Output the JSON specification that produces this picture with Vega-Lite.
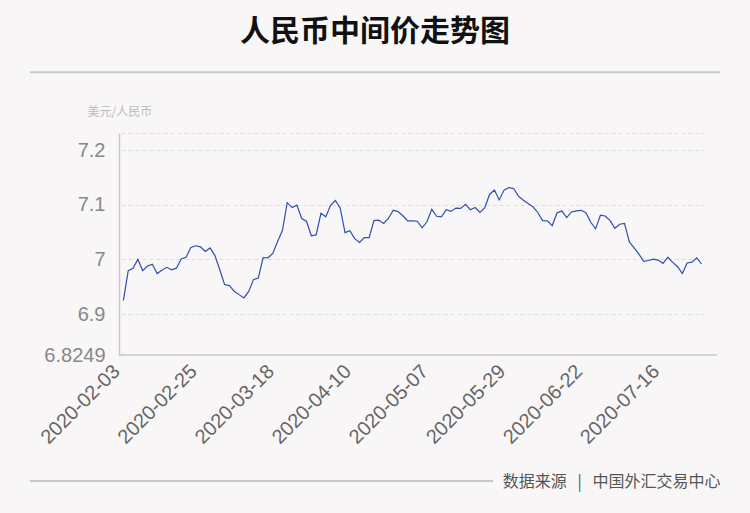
{
  "$schema": "https://vega.github.io/schema/vega-lite/v6.json",
  "width": 598,
  "height": 222,
  "autosize": "none",
  "padding": {"left": 119, "top": 133, "right": 33, "bottom": 158},
  "background": "#f9f6f8",
  "title": {"text": "人民币中间价走势图", "font": "Noto Sans CJK SC", "fontSize": 30, "fontWeight": "bold", "color": "#111111", "anchor": "middle", "frame": "group", "dx": -43, "offset": 24},
  "config": {"view": {"stroke": null}, "font": "Liberation Sans"},
  "resolve": {"scale": {"x": "independent"}, "axis": {"x": "independent"}},
  "layer": [
    {
      "data": {"values": [
        {"date": "2020-02-03", "rate": 6.9249},
        {"date": "2020-02-04", "rate": 6.9795},
        {"date": "2020-02-05", "rate": 6.9837},
        {"date": "2020-02-06", "rate": 7.0000},
        {"date": "2020-02-07", "rate": 6.9795},
        {"date": "2020-02-10", "rate": 6.9880},
        {"date": "2020-02-11", "rate": 6.9910},
        {"date": "2020-02-12", "rate": 6.9740},
        {"date": "2020-02-13", "rate": 6.9800},
        {"date": "2020-02-14", "rate": 6.9855},
        {"date": "2020-02-17", "rate": 6.9810},
        {"date": "2020-02-18", "rate": 6.9840},
        {"date": "2020-02-19", "rate": 7.0010},
        {"date": "2020-02-20", "rate": 7.0040},
        {"date": "2020-02-21", "rate": 7.0220},
        {"date": "2020-02-24", "rate": 7.0250},
        {"date": "2020-02-25", "rate": 7.0230},
        {"date": "2020-02-26", "rate": 7.0145},
        {"date": "2020-02-27", "rate": 7.0210},
        {"date": "2020-02-28", "rate": 7.0070},
        {"date": "2020-03-02", "rate": 6.9810},
        {"date": "2020-03-03", "rate": 6.9540},
        {"date": "2020-03-04", "rate": 6.9520},
        {"date": "2020-03-05", "rate": 6.9415},
        {"date": "2020-03-06", "rate": 6.9355},
        {"date": "2020-03-09", "rate": 6.9295},
        {"date": "2020-03-10", "rate": 6.9415},
        {"date": "2020-03-11", "rate": 6.9630},
        {"date": "2020-03-12", "rate": 6.9660},
        {"date": "2020-03-13", "rate": 7.0035},
        {"date": "2020-03-16", "rate": 7.0030},
        {"date": "2020-03-17", "rate": 7.0110},
        {"date": "2020-03-18", "rate": 7.0330},
        {"date": "2020-03-19", "rate": 7.0530},
        {"date": "2020-03-20", "rate": 7.1040},
        {"date": "2020-03-23", "rate": 7.0950},
        {"date": "2020-03-24", "rate": 7.0995},
        {"date": "2020-03-25", "rate": 7.0750},
        {"date": "2020-03-26", "rate": 7.0700},
        {"date": "2020-03-27", "rate": 7.0434},
        {"date": "2020-03-30", "rate": 7.0450},
        {"date": "2020-03-31", "rate": 7.0845},
        {"date": "2020-04-01", "rate": 7.0780},
        {"date": "2020-04-02", "rate": 7.0990},
        {"date": "2020-04-03", "rate": 7.1080},
        {"date": "2020-04-07", "rate": 7.0940},
        {"date": "2020-04-08", "rate": 7.0490},
        {"date": "2020-04-09", "rate": 7.0525},
        {"date": "2020-04-10", "rate": 7.0380},
        {"date": "2020-04-13", "rate": 7.0310},
        {"date": "2020-04-14", "rate": 7.0400},
        {"date": "2020-04-15", "rate": 7.0400},
        {"date": "2020-04-16", "rate": 7.0710},
        {"date": "2020-04-17", "rate": 7.0720},
        {"date": "2020-04-20", "rate": 7.0660},
        {"date": "2020-04-21", "rate": 7.0750},
        {"date": "2020-04-22", "rate": 7.0900},
        {"date": "2020-04-23", "rate": 7.0875},
        {"date": "2020-04-24", "rate": 7.0800},
        {"date": "2020-04-27", "rate": 7.0705},
        {"date": "2020-04-28", "rate": 7.0705},
        {"date": "2020-04-29", "rate": 7.0700},
        {"date": "2020-04-30", "rate": 7.0580},
        {"date": "2020-05-06", "rate": 7.0690},
        {"date": "2020-05-07", "rate": 7.0917},
        {"date": "2020-05-08", "rate": 7.0790},
        {"date": "2020-05-11", "rate": 7.0780},
        {"date": "2020-05-12", "rate": 7.0910},
        {"date": "2020-05-13", "rate": 7.0880},
        {"date": "2020-05-14", "rate": 7.0940},
        {"date": "2020-05-15", "rate": 7.0935},
        {"date": "2020-05-18", "rate": 7.1010},
        {"date": "2020-05-19", "rate": 7.0910},
        {"date": "2020-05-20", "rate": 7.0950},
        {"date": "2020-05-21", "rate": 7.0860},
        {"date": "2020-05-22", "rate": 7.0950},
        {"date": "2020-05-25", "rate": 7.1190},
        {"date": "2020-05-26", "rate": 7.1270},
        {"date": "2020-05-27", "rate": 7.1090},
        {"date": "2020-05-28", "rate": 7.1270},
        {"date": "2020-05-29", "rate": 7.1316},
        {"date": "2020-06-01", "rate": 7.1300},
        {"date": "2020-06-02", "rate": 7.1160},
        {"date": "2020-06-03", "rate": 7.1085},
        {"date": "2020-06-04", "rate": 7.1025},
        {"date": "2020-06-05", "rate": 7.0965},
        {"date": "2020-06-08", "rate": 7.0860},
        {"date": "2020-06-09", "rate": 7.0710},
        {"date": "2020-06-10", "rate": 7.0705},
        {"date": "2020-06-11", "rate": 7.0620},
        {"date": "2020-06-12", "rate": 7.0856},
        {"date": "2020-06-15", "rate": 7.0886},
        {"date": "2020-06-16", "rate": 7.0766},
        {"date": "2020-06-17", "rate": 7.0870},
        {"date": "2020-06-18", "rate": 7.0890},
        {"date": "2020-06-19", "rate": 7.0900},
        {"date": "2020-06-22", "rate": 7.0856},
        {"date": "2020-06-23", "rate": 7.0680},
        {"date": "2020-06-24", "rate": 7.0560},
        {"date": "2020-06-29", "rate": 7.0810},
        {"date": "2020-06-30", "rate": 7.0796},
        {"date": "2020-07-01", "rate": 7.0710},
        {"date": "2020-07-02", "rate": 7.0570},
        {"date": "2020-07-03", "rate": 7.0645},
        {"date": "2020-07-06", "rate": 7.0660},
        {"date": "2020-07-07", "rate": 7.0320},
        {"date": "2020-07-08", "rate": 7.0210},
        {"date": "2020-07-09", "rate": 7.0096},
        {"date": "2020-07-10", "rate": 6.9964},
        {"date": "2020-07-13", "rate": 6.9980},
        {"date": "2020-07-14", "rate": 7.0006},
        {"date": "2020-07-15", "rate": 6.9988},
        {"date": "2020-07-16", "rate": 6.9928},
        {"date": "2020-07-17", "rate": 7.0040},
        {"date": "2020-07-20", "rate": 6.9946},
        {"date": "2020-07-21", "rate": 6.9870},
        {"date": "2020-07-22", "rate": 6.9740},
        {"date": "2020-07-23", "rate": 6.9934},
        {"date": "2020-07-24", "rate": 6.9950},
        {"date": "2020-07-27", "rate": 7.0030},
        {"date": "2020-07-28", "rate": 6.9916}
      ]},
      "mark": {"type": "line", "color": "#2f4fb0", "strokeWidth": 1.2, "clip": false},
      "encoding": {
        "x": {
          "field": "date", "type": "ordinal",
          "scale": {"type": "point", "range": [2, 585]},
          "axis": {
            "values": ["2020-02-03", "2020-02-25", "2020-03-18", "2020-04-10", "2020-05-07", "2020-05-29", "2020-06-22", "2020-07-16"],
            "labelAngle": -45, "labelFontSize": 20, "labelColor": "#666666", "labelPadding": 20,
            "labelAlign": "right", "labelBaseline": "bottom",
            "labelOverlap": false, "ticks": false, "domain": false, "grid": false,
            "title": "数据来源\u00a0\u00a0\u00a0|\u00a0\u00a0\u00a0中国外汇交易中心", "titleFont": "Noto Sans CJK SC", "titleFontSize": 16,
            "titleFontWeight": "normal", "titleColor": "#555555", "titleAlign": "right",
            "titleX": 601, "titleY": 126, "titleBaseline": "middle"
          }
        },
        "y": {
          "field": "rate", "type": "quantitative",
          "scale": {"domain": [6.8249, 7.2316], "zero": false, "nice": false},
          "axis": {
            "values": [6.8249, 6.9, 7, 7.1, 7.2, 7.2316],
            "labelExpr": "datum.value > 7.22 ? '' : '' + datum.value",
            "labelFontSize": 20, "labelColor": "#888888", "labelPadding": 14,
            "ticks": false, "domain": true, "domainColor": "#c8c8c8", "domainWidth": 1.5,
            "grid": true, "gridDash": [4, 3], "gridColor": "#dddddd",
            "title": "美元/人民币", "titleFont": "Noto Sans CJK SC", "titleFontSize": 12,
            "titleFontWeight": "normal", "titleColor": "#bbbbbb", "titleAngle": 0,
            "titleAlign": "left", "titleBaseline": "middle", "titleX": -32, "titleY": -22
          }
        }
      }
    },
    {
      "data": {"values": [{}]},
      "mark": {"type": "rule", "color": "#c8c8c8", "strokeWidth": 1.5},
      "encoding": {"y": {"datum": 6.8249}}
    },
    {
      "data": {"values": [{}]},
      "mark": {"type": "rule", "color": "#c8c8c8", "strokeWidth": 2, "clip": false},
      "encoding": {
        "x": {"datum": -0.1488, "type": "quantitative", "scale": {"domain": [0, 1]}, "axis": null},
        "x2": {"datum": 1.005},
        "y": {"datum": 7.343}
      }
    },
    {
      "data": {"values": [{}]},
      "mark": {"type": "rule", "color": "#c8c8c8", "strokeWidth": 2, "clip": false},
      "encoding": {
        "x": {"datum": -0.1488, "type": "quantitative", "scale": {"domain": [0, 1]}, "axis": null},
        "x2": {"datum": 0.6254},
        "y": {"datum": 6.594}
      }
    }
  ]
}
